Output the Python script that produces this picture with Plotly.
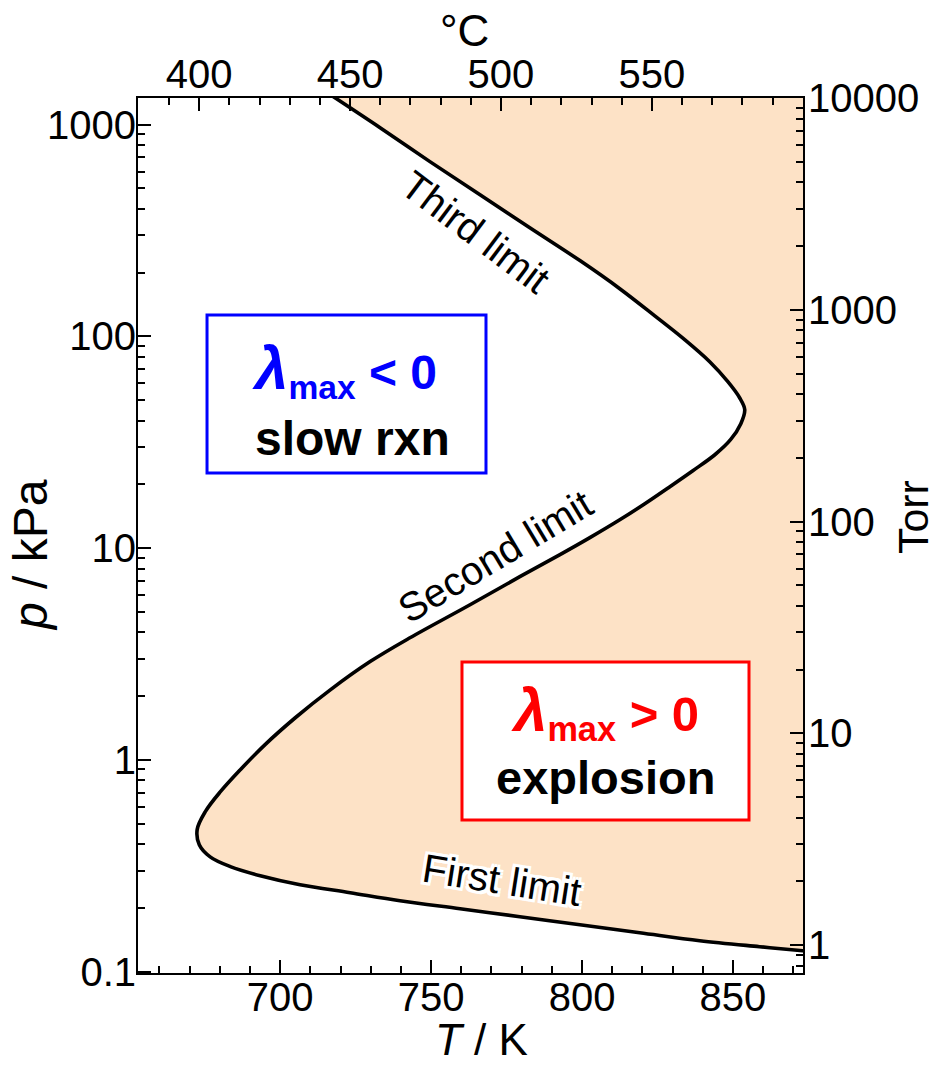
import math
import plotly.graph_objects as go

# Explosion boundary of H2/O2, traced from the third limit (top) through the
# second limit down to the first limit (bottom)
T_K = [716.6, 733.1, 749.6, 766.2, 782.7, 799.3, 812.5, 824.1, 834.0, 842.3,
       848.3, 852.2, 853.9, 852.6, 849.2, 844.0, 836.7, 829.1, 820.8, 812.5,
       802.6, 792.7, 779.4, 762.9, 743.0, 729.8, 716.6, 705.0, 695.0, 686.8,
       680.2, 675.2, 672.5, 673.2, 676.8, 683.5, 693.4, 706.6, 723.2, 739.7,
       759.6, 779.4, 799.3, 819.1, 839.0, 858.8, 873.1, 877.0]
p_kPa = [1386, 968, 669, 467, 326, 228, 168, 125, 96.5, 75.9,
         61.1, 51.3, 45.1, 38.7, 32.5, 27.6, 23.2, 19.5, 16.2, 13.6,
         11.2, 9.31, 7.33, 5.40, 3.77, 2.91, 2.14, 1.58, 1.18, 0.898,
         0.707, 0.569, 0.468, 0.397, 0.348, 0.313, 0.2835, 0.257, 0.2356, 0.216,
         0.198, 0.1815, 0.1663, 0.1525, 0.1398, 0.131, 0.1254, 0.1241]

# Axis extents and unit conversions
T_RANGE = [652.9, 873.2]            # K
LOGP_RANGE = [-1.007, 3.126]        # log10(kPa)
K_TO_C = 273.15
KPA_TO_TORR = 7.50062

# Tick labels
T_TICKS = [700, 750, 800, 850]
C_TICKS = [400, 450, 500, 550]
P_TICKS = [0.1, 1, 10, 100, 1000]
TORR_TICKS = [1, 10, 100, 1000, 10000]

T_MINOR = [t for t in range(660, 871, 10) if t % 50]
C_MINOR = [c for c in range(390, 601, 10) if c % 50]
P_MINOR = [m * 10.0 ** e for e in range(-1, 4) for m in range(2, 10)]
TORR_MINOR = [m * 10.0 ** e for e in range(-1, 4) for m in range(2, 10)]

FONT = "Arial, Liberation Sans, sans-serif"
FILL = "#FDE2C6"

fig = go.Figure()

# explosion region: right of the boundary, closed beyond the plotted window
fill_T = T_K + [T_RANGE[1] + 10, T_RANGE[1] + 10]
fill_p = p_kPa + [p_kPa[-1], p_kPa[0]]
fig.add_trace(go.Scatter(x=fill_T, y=fill_p, mode="lines", fill="toself",
                         fillcolor=FILL, line=dict(width=0, shape="spline", smoothing=1.0),
                         hoverinfo="skip", showlegend=False))

# boundary line
fig.add_trace(go.Scatter(x=T_K, y=p_kPa, mode="lines",
                         line=dict(color="black", width=3.6, shape="spline", smoothing=1.0),
                         showlegend=False))

# same boundary on the °C / Torr axes (invisible, keeps the secondary axes live)
fig.add_trace(go.Scatter(x=[t - K_TO_C for t in T_K], y=[p * KPA_TO_TORR for p in p_kPa],
                         xaxis="x2", yaxis="y2", mode="lines",
                         line=dict(width=0), opacity=0, hoverinfo="skip", showlegend=False))

axis_common = dict(ticks="inside", ticklen=13, tickwidth=2, tickcolor="black",
                   showline=True, linewidth=2, linecolor="black",
                   showgrid=False, zeroline=False,
                   tickfont=dict(family=FONT, size=40, color="black"))
minor_common = dict(ticks="inside", ticklen=7, tickwidth=2, tickcolor="black", showgrid=False)

log_shift = math.log10(KPA_TO_TORR)
torr_range = [LOGP_RANGE[0] + log_shift, LOGP_RANGE[1] + log_shift]

fig.update_layout(
    width=945, height=1065,
    margin=dict(l=138, r=142, t=98, b=92),
    paper_bgcolor="white", plot_bgcolor="white",
    showlegend=False,
    font=dict(family=FONT, size=40, color="black"),
    xaxis=dict(range=T_RANGE, tickvals=T_TICKS, ticktext=[str(v) for v in T_TICKS],
               ticklabelstandoff=-12,
               minor=dict(tickvals=T_MINOR, **minor_common), **axis_common),
    yaxis=dict(type="log", range=LOGP_RANGE, tickvals=P_TICKS,
               ticktext=[str(v) for v in P_TICKS], ticklabelstandoff=-8,
               minor=dict(tickvals=P_MINOR, **minor_common), **axis_common),
    xaxis2=dict(overlaying="x", side="top", anchor="y2",
                range=[T_RANGE[0] - K_TO_C, T_RANGE[1] - K_TO_C],
                tickvals=C_TICKS, ticktext=[str(v) for v in C_TICKS],
                ticklabelstandoff=-8,
                minor=dict(tickvals=C_MINOR, **minor_common), **axis_common),
    yaxis2=dict(overlaying="y", side="right", anchor="x2", type="log",
                range=torr_range, tickvals=TORR_TICKS,
                ticktext=[str(v) for v in TORR_TICKS], ticklabelstandoff=-5,
                minor=dict(tickvals=TORR_MINOR, **minor_common), **axis_common),
)

# region boxes
fig.add_shape(type="rect", xref="paper", yref="paper",
              x0=0.1038, x1=0.5233, y0=0.5714, y1=0.752,
              line=dict(color="#0000FF", width=3), fillcolor="white", layer="above")
fig.add_shape(type="rect", xref="paper", yref="paper",
              x0=0.4872, x1=0.9188, y0=0.1749, y1=0.3554,
              line=dict(color="#FF0000", width=3), fillcolor="white", layer="above")

def note(text, x, y, size=36, color="black", angle=0, yanchor="middle", pad=1, **kw):
    fig.add_annotation(text=text, x=x, y=y, xref="paper", yref="paper",
                       xanchor="center", yanchor=yanchor, showarrow=False,
                       textangle=angle, borderpad=pad,
                       font=dict(family=FONT, size=size, color=color, **kw))

lam = "<i><span style='font-size:60px'>λ</span></i><sub>max</sub>"
note("<b>" + lam + " &lt; 0</b>", 0.311, 0.689, size=48, color="#0000FF")
note("<b>slow rxn</b>", 0.322, 0.611, size=48)
note("<b>" + lam + " &gt; 0</b>", 0.702, 0.298, size=49, color="#FF0000")
note("<b>explosion</b>", 0.703, 0.223, size=47)

# curve labels
note("Third limit", 0.508, 0.847, size=40, angle=37)
note("Second limit", 0.537, 0.477, size=40, angle=-31)
note("First limit", 0.5474, 0.1063, size=40, angle=9,
     shadow="3px 3px 0 white, -3px -3px 0 white, 3px -3px 0 white, -3px 3px 0 white, "
            "0 3px 0 white, 0 -3px 0 white, 3px 0 0 white, -3px 0 0 white")

# axis titles
note("<i>T</i> / K", 0.517, -0.1049, size=44, yanchor="bottom", pad=0)
note("<i>p</i> / kPa", -0.1624, 0.4777, size=48, angle=-90)
note("°C", 0.4917, 1.0777, size=44)
note("Torr", 1.1654, 0.521, size=43, angle=-90)

fig.write_html("out.html")
